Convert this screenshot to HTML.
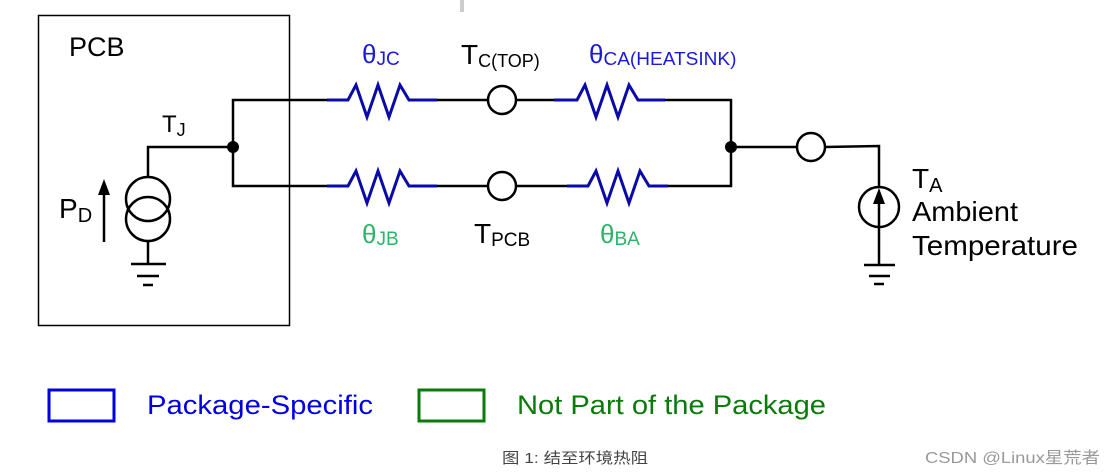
<!DOCTYPE html>
<html><head><meta charset="utf-8"><style>
html,body{margin:0;padding:0;background:#fff;}
svg{display:block;}
text{font-family:"Liberation Sans","Noto Sans CJK SC",sans-serif;}
</style></head><body>
<svg width="1116" height="476" viewBox="0 0 1116 476" xmlns="http://www.w3.org/2000/svg">
<line x1="462" y1="0" x2="462" y2="12" stroke="#ccc" stroke-width="4"/>
<rect x="38.5" y="15.5" width="251" height="310" fill="none" stroke="#000" stroke-width="1.5"/>
<text x="69" y="56" font-size="27">PCB</text>
<g fill="none" stroke="#000" stroke-width="2.5">
  <polyline points="148,177 148,147 233,147"/>
  <polyline points="327,100 233,100 233,186 327,186"/>
  <line x1="437" y1="100" x2="488" y2="100"/>
  <line x1="516" y1="100" x2="554" y2="100"/>
  <line x1="437" y1="186" x2="488" y2="186"/>
  <line x1="516" y1="186" x2="567" y2="186"/>
  <polyline points="665,100 731,100 731,186 668,186"/>
  <line x1="731" y1="147" x2="797" y2="147"/>
  <polyline points="825,147 879,146 879,187"/>
  <line x1="879" y1="227" x2="879" y2="265"/>
  <circle cx="148" cy="199" r="22"/>
  <circle cx="148" cy="219" r="22"/>
  <line x1="148" y1="241" x2="148" y2="264"/>
  <line x1="131" y1="264" x2="166" y2="264"/>
  <line x1="137" y1="276" x2="159" y2="276"/>
  <line x1="143" y1="285" x2="153" y2="285"/>
  <circle cx="502" cy="100" r="14" fill="#fff"/>
  <circle cx="502" cy="186" r="14" fill="#fff"/>
  <circle cx="811" cy="147" r="14" fill="#fff"/>
  <circle cx="879" cy="207" r="20"/>
  <line x1="879" y1="200" x2="879" y2="227"/>
  <line x1="864" y1="265" x2="895" y2="265"/>
  <line x1="869" y1="276" x2="890" y2="276"/>
  <line x1="874" y1="284" x2="884" y2="284"/>
  <line x1="104" y1="192" x2="104" y2="242"/>
</g>
<polygon points="104,179 98,195 110,195" fill="#000"/>
<polygon points="879,188 873,204 885,204" fill="#000"/>
<circle cx="233" cy="147" r="6" fill="#000"/>
<circle cx="731" cy="147" r="6" fill="#000"/>
<g fill="none" stroke="#0a0aa8" stroke-width="3" stroke-linejoin="miter">
  <polyline points="327,100 348,100 356,85 367,117 378,85 389,117 400,85 409,100 437,100"/>
  <polyline points="327,186 348,186 356,171 367,203 378,171 389,203 400,171 409,186 437,186"/>
  <polyline points="554,100 577,100 585,85 596,117 607,85 618,117 629,85 638,100 665,100"/>
  <polyline points="567,186 588,186 596,171 607,203 618,171 629,203 640,171 649,186 668,186"/>
</g>
<text x="362" y="63" font-size="26" fill="#1a1ad8">θ<tspan font-size="19" dy="2">JC</tspan></text>
<text x="461" y="64" font-size="28" fill="#000">T<tspan font-size="18" dy="3">C(TOP)</tspan></text>
<text x="589" y="63" font-size="26" fill="#1a1ad8">θ<tspan font-size="18" dy="2" textLength="133" lengthAdjust="spacingAndGlyphs">CA(HEATSINK)</tspan></text>
<text x="362" y="243" font-size="26" fill="#2db36a">θ<tspan font-size="19" dy="2">JB</tspan></text>
<text x="474" y="243" font-size="28" fill="#000">T<tspan font-size="19" dy="3">PCB</tspan></text>
<text x="600" y="243" font-size="26" fill="#2db36a">θ<tspan font-size="19" dy="2">BA</tspan></text>
<text x="162" y="132" font-size="24">T<tspan font-size="18" dy="4">J</tspan></text>
<text x="59" y="218" font-size="28">P<tspan font-size="20" dy="4">D</tspan></text>
<text x="912" y="188" font-size="28">T<tspan font-size="20" dy="4">A</tspan></text>
<text x="912" y="221" font-size="28" textLength="106" lengthAdjust="spacingAndGlyphs">Ambient</text>
<text x="912" y="255" font-size="28" textLength="166" lengthAdjust="spacingAndGlyphs">Temperature</text>
<rect x="49" y="390" width="65" height="31" fill="none" stroke="#0000e0" stroke-width="3"/>
<text x="147" y="414" font-size="27" fill="#0000e0" textLength="226" lengthAdjust="spacingAndGlyphs">Package-Specific</text>
<rect x="419" y="390" width="65" height="31" fill="none" stroke="#0a7a0a" stroke-width="3"/>
<text x="517" y="414" font-size="27" fill="#0a7a0a" textLength="309" lengthAdjust="spacingAndGlyphs">Not Part of the Package</text>
<text x="502" y="463" font-size="15" fill="#444" textLength="146" lengthAdjust="spacingAndGlyphs">图 1: 结至环境热阻</text>
<text x="925" y="463" font-size="16" fill="#999" textLength="175" lengthAdjust="spacingAndGlyphs">CSDN @Linux星荒者</text>
</svg>
</body></html>
